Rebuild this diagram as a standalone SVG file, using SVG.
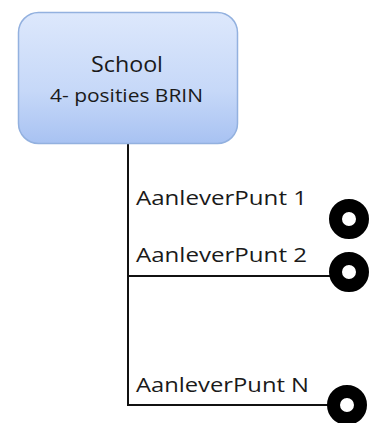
<svg xmlns="http://www.w3.org/2000/svg" width="375" height="423" viewBox="0 0 375 423">
<style>
.lbl{font-family:"Open Sans","Liberation Sans",sans-serif;font-size:20px;fill:#1a1a1a}
.conn{stroke:#111;stroke-width:2;fill:none}
.ring{stroke:#000;stroke-width:13;fill:#fff}
</style>
<defs>
<linearGradient id="g" x1="0" y1="0" x2="0" y2="1">
<stop offset="0" stop-color="#dde8fc"/>
<stop offset="0.6" stop-color="#c6d8f8"/>
<stop offset="1" stop-color="#a8c2f2"/>
</linearGradient>
</defs>
<rect width="375" height="423" fill="#fff"/>
<g id="connectors">
<path class="conn" d="M128 144 V405 H332"/>
<path class="conn" d="M128 276 H332"/>
</g>
<g id="school">
<rect x="18.5" y="12.5" width="219" height="131" rx="20" fill="url(#g)" stroke="#93b1df" stroke-width="1.5"/>
<text x="91" y="72" textLength="72" lengthAdjust="spacingAndGlyphs" font-family="'Open Sans','Liberation Sans',sans-serif" font-size="21" fill="#1a1a1a">School</text>
<text x="50" y="102" textLength="153" lengthAdjust="spacingAndGlyphs" font-family="'Open Sans','Liberation Sans',sans-serif" font-size="19" fill="#1a1a1a">4- posities BRIN</text>
</g>
<g id="punt1">
<text class="lbl" x="136" y="205" textLength="171" lengthAdjust="spacingAndGlyphs">AanleverPunt 1</text>
<circle class="ring" cx="349" cy="219" r="13.5"/>
</g>
<g id="punt2">
<text class="lbl" x="136" y="262" textLength="171" lengthAdjust="spacingAndGlyphs">AanleverPunt 2</text>
<circle class="ring" cx="349" cy="272" r="13.5"/>
</g>
<g id="puntN">
<text class="lbl" x="136" y="392" textLength="173" lengthAdjust="spacingAndGlyphs">AanleverPunt N</text>
<circle class="ring" cx="347" cy="405" r="13.5"/>
</g>
</svg>
